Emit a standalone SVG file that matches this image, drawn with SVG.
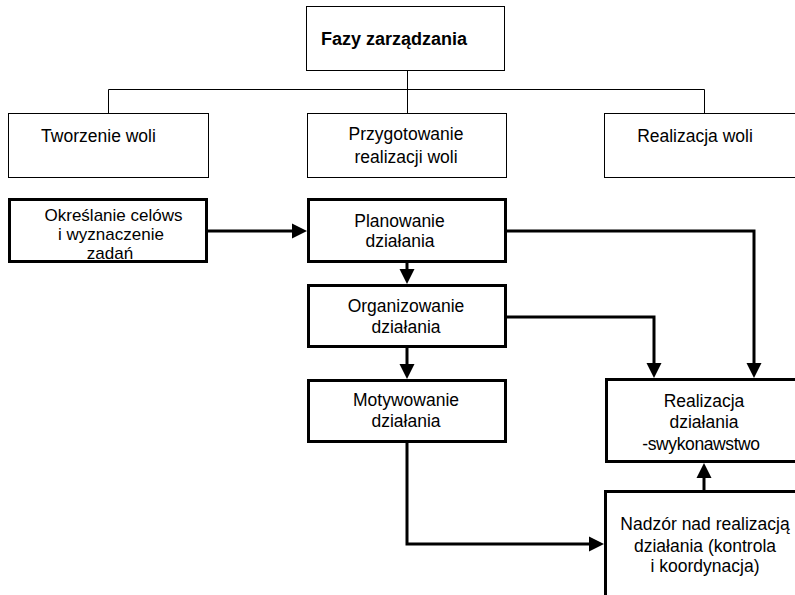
<svg xmlns="http://www.w3.org/2000/svg" width="795" height="595" viewBox="0 0 795 595">
  <style>
    text { font-family: "Liberation Sans", Arial, sans-serif; font-size: 17.5px; fill: #000; text-anchor: middle; }
    .title { font-weight: bold; font-size: 18px; }
    .tight { font-size: 17px; }
    .thin { fill: #fff; stroke: #000; stroke-width: 1; }
    .thick { fill: #fff; stroke: #000; stroke-width: 3; }
    .tree { fill: none; stroke: #000; stroke-width: 1; }
    .flow { fill: none; stroke: #000; stroke-width: 3; marker-end: url(#arrow); }
  </style>
  <defs>
    <marker id="arrow" markerUnits="userSpaceOnUse" markerWidth="16" markerHeight="16" refX="3" refY="8" orient="auto">
      <path d="M0,0.5 L15,8 L0,15.5 z" fill="#000"/>
    </marker>
  </defs>

  <rect width="795" height="595" fill="#fff"/>

  <!-- hierarchy lines and flow connectors -->
  <g id="connectors">
    <path class="tree" d="M407.5,70 V89.5 M108.5,113 V89.5 H704.5 V113 M407.5,89.5 V113"/>
    <path class="flow" d="M208,231 H295"/>
    <path class="flow" d="M407,263 V272"/>
    <path class="flow" d="M407,348 V367"/>
    <path class="flow" d="M507,231 H754 V366"/>
    <path class="flow" d="M507,317 H654 V366"/>
    <path class="flow" d="M407,443 V544 H592"/>
    <path class="flow" d="M704,490 V475"/>
  </g>

  <g id="fazy">
    <rect class="thin" x="306.5" y="6.5" width="198" height="64"/>
    <text class="title" x="394" y="45">Fazy zarządzania</text>
  </g>

  <g id="tworzenie">
    <rect class="thin" x="8.5" y="113.5" width="200" height="64"/>
    <text x="98.5" y="142">Tworzenie woli</text>
  </g>

  <g id="przygotowanie">
    <rect class="thin" x="307.5" y="113.5" width="199" height="64"/>
    <text x="406" y="140">Przygotowanie</text>
    <text x="406" y="163">realizacji woli</text>
  </g>

  <g id="realizacja-woli">
    <rect class="thin" x="604.5" y="113.5" width="200" height="64"/>
    <text x="695" y="142">Realizacja woli</text>
  </g>

  <g id="okreslanie">
    <rect class="thick" x="9.5" y="199.5" width="197" height="62"/>
    <text class="tight" x="113.5" y="221">Określanie celóws</text>
    <text class="tight" x="111" y="240">i wyznaczenie</text>
    <text class="tight" x="110" y="259">zadań</text>
  </g>

  <g id="planowanie">
    <rect class="thick" x="308.5" y="199.5" width="197" height="62"/>
    <text x="399.5" y="227">Planowanie</text>
    <text x="400" y="247">działania</text>
  </g>

  <g id="organizowanie">
    <rect class="thick" x="308.5" y="285.5" width="197" height="61"/>
    <text x="406" y="312">Organizowanie</text>
    <text x="406" y="333">działania</text>
  </g>

  <g id="motywowanie">
    <rect class="thick" x="308.5" y="380.5" width="197" height="61"/>
    <text x="406" y="406">Motywowanie</text>
    <text x="406" y="427">działania</text>
  </g>

  <g id="realizacja-dzialania">
    <rect class="thick" x="606.5" y="379.5" width="200" height="82"/>
    <text x="704" y="407">Realizacja</text>
    <text x="704" y="428">działania</text>
    <text x="701" y="450" letter-spacing="-0.4">-swykonawstwo</text>
  </g>

  <g id="nadzor">
    <rect class="thick" x="605.5" y="491.5" width="200" height="120"/>
    <text x="705" y="530">Nadzór nad realizacją</text>
    <text x="705" y="552">działania (kontrola</text>
    <text x="705" y="572">i koordynacja)</text>
  </g>
</svg>
